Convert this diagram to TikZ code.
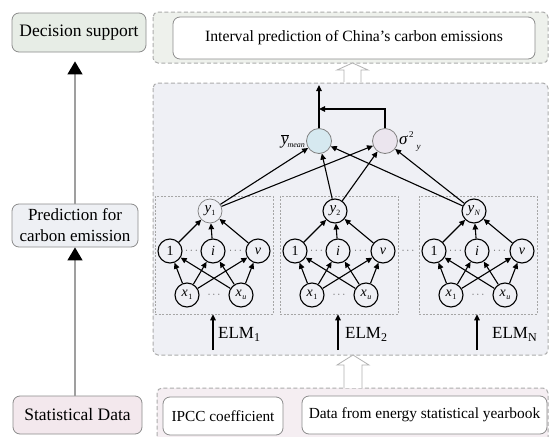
\documentclass[tikz,border=0pt]{standalone}
\usepackage{fontspec}
\setmainfont{Liberation Serif}
\usetikzlibrary{arrows.meta,calc}
\definecolor{topfill}{HTML}{EEF1EC}
\definecolor{midfill}{HTML}{EFF0F5}
\definecolor{botfill}{HTML}{F5EEF2}
\definecolor{decfill}{HTML}{E7EDE6}
\definecolor{predfill}{HTML}{EEF0F4}
\definecolor{statfill}{HTML}{F3E8ED}
\definecolor{meanfill}{HTML}{D6E9F0}
\definecolor{sigfill}{HTML}{EBE5EE}
\definecolor{edgegray}{HTML}{8C8C8C}
\newcommand\fsz[1]{\fontsize{#1}{#1}\selectfont}
\newcommand\varsub[2]{\textit{#1}\kern0.3pt\raisebox{-2.5pt}{\fsz{8}#2}}
\newcommand\elmblock[6]{%
  \pgfmathsetmacro\Lx{#1}\pgfmathsetmacro\Cx{#1+59}%
  \node[subbox] (#2box) at ({\Cx},255) {};
  \node[#4] (#2y) at ({\Cx-4},211) {#3};
  \node[neuron] (#2h1) at ({\Lx+15},251) {1};
  \node[neuron] (#2hi) at ({\Cx-1},251) {\textit{i}};
  \node[neuron] (#2hv) at ({\Lx+103},251) {\textit{v}};
  \node[neuron] (#2x1) at ({\Cx-27},295) {\varsub{x}{1}};
  \node[neuron] (#2xu) at ({\Cx+27},295) {\varsub{x}{\textit{u}}};
  \node[dotsn] (#2d1) at ($(#2h1)!0.5!(#2hi)$) {$\cdots$};
  \node[dotsn] (#2d2) at ($(#2hi)!0.5!(#2hv)$) {$\cdots$};
  \node[dotsn] (#2d3) at ($(#2x1)!0.5!(#2xu)$) {$\cdots$};
  \foreach \hh in {h1,hi,hv} {
    \draw[arr] (#2\hh) -- (#2y);
    \draw[arr] (#2x1) -- (#2\hh);
    \draw[arr] (#2xu) -- (#2\hh);
  }
  \coordinate (#2in) at ({\Cx-1},350);
  \draw[arr] (#2in) -- (#2in |- #2box.south);
  \node[elmlab] (#2lab) at (#5,338) {ELM\raisebox{-3pt}{\fsz{12}#6}};
}
\begin{document}
\begin{tikzpicture}[x=1pt,y=-1pt,
  tbox/.style={draw=edgegray,line width=0.8pt,rounded corners=7pt,align=center,inner sep=0pt},
  region/.style={draw=gray!65,line width=1pt,dash pattern=on 4pt off 2.5pt,rounded corners=5pt},
  subbox/.style={draw=gray!70,line width=0.5pt,dash pattern=on 2pt off 1.5pt,minimum width=118pt,minimum height=118pt,inner sep=0pt},
  neuron/.style={circle,draw=black,line width=1.1pt,minimum size=24pt,inner sep=0pt,fill=midfill,font=\fsz{14}},
  yblack/.style={neuron,font=\fsz{15}},
  ygray/.style={neuron,draw=gray,line width=0.7pt,font=\fsz{15}},
  stat/.style={circle,draw=gray,line width=0.8pt,minimum size=25pt,inner sep=0pt},
  dotsn/.style={inner sep=0pt,font=\fsz{11},text=gray!70!black},
  arr/.style={line width=1.1pt,-{Triangle[length=6pt,width=5.5pt]}},
  bigarr/.style={draw=gray!75,line width=1.3pt,-{Triangle[length=13pt,width=15pt,color=black]}},
  hollow/.style={draw=gray!60,line width=0.8pt,fill=white},
  elmlab/.style={anchor=base west,inner sep=0pt,font=\fsz{17}}]
\clip (0,0) rectangle (550,437);
\fill[white] (0,0) rectangle (550,437);
% regions
\draw[region,fill=topfill] (153,12) rectangle (548,63);
\draw[region,fill=midfill] (153,83) rectangle (548,355);
\draw[region,fill=botfill] (157,388) rectangle (548,460);
% hollow arrows
\draw[hollow] (344,82) -- (344,70) -- (337,70) -- (352.5,63) -- (368,70) -- (361,70) -- (361,82);
\draw[hollow] (344,388) -- (344,365) -- (337,365) -- (353,355) -- (369,365) -- (362,365) -- (362,388);
% left column
\node[tbox,fill=decfill,minimum width=134pt,minimum height=39pt,font=\fsz{17.5}] (dec) at (79,32.5) {Decision support};
\node[tbox,fill=predfill,minimum width=126pt,minimum height=43pt,font=\fontsize{17}{21}\selectfont] (pred) at (75,225.5) {Prediction for\\carbon emission};
\node[tbox,fill=statfill,minimum width=129pt,minimum height=38pt,font=\fsz{17.5}] (stat) at (77.5,415) {Statistical Data};
\draw[bigarr,shorten >=9pt] (pred.north) -- (pred.north |- dec.south);
\draw[bigarr] (pred.south |- stat.north) -- (pred.south);
% top and bottom text boxes
\node[tbox,fill=white,minimum width=362pt,minimum height=42pt,font=\fsz{15.7}] (interval) at (354,38) {Interval prediction of China's carbon emissions};
\node[tbox,fill=white,minimum width=120pt,minimum height=38pt,font=\fsz{15.3}] (ipcc) at (223,416) {IPCC coefficient};
\node[tbox,fill=white,minimum width=245pt,minimum height=38pt,font=\fsz{15.4}] (data) at (424.5,415) {Data from energy statistical yearbook};
% ELM blocks
\elmblock{155}{b1}{\varsub{y}{1}}{ygray}{218}{1}
\elmblock{280}{b2}{\varsub{y}{2}}{yblack}{345}{2}
\elmblock{419}{bN}{\varsub{y}{\textit{N}}}{yblack}{492}{N}
\node[dotsn] (bdots) at (408,251) {$\cdots$};
% aggregation
\node[stat,fill=meanfill] (ymean) at (319,141) {};
\node[stat,fill=sigfill] (sigma) at (385,141) {};
\node[anchor=east,inner sep=1pt,font=\fsz{17}] (meanlab) at (ymean.west) {$\overline{\mbox{\textit{y}}}$\kern-1pt\raisebox{-3pt}{\fsz{8}\textit{mean}}};
\node[anchor=west,inner sep=1pt,font=\fsz{17}] (siglab) at (sigma.east) {\textit{σ}\kern1pt\raisebox{7pt}{\fsz{9}2}\kern3pt\raisebox{-5pt}{\fsz{9}\textit{y}}};
\foreach \bk in {b1,b2,bN} {
  \draw[arr] (\bk y) -- (ymean);
  \draw[arr] (\bk y) -- (sigma);
}
\coordinate (out) at (319,85);
\coordinate (sj) at (385,109);
\draw[arr] (ymean) -- (out);
\draw[arr] (sigma) -- (sj) -- (sj -| ymean);
\end{tikzpicture}
\end{document}
